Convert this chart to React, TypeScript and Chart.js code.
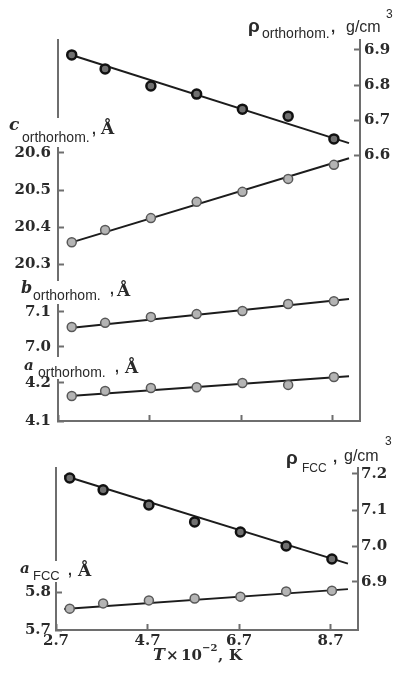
import React, { useEffect, useRef } from "react";
import { Chart, registerables } from "chart.js";

Chart.register(...registerables);

// ---------------- data ----------------
// temperature, T x 10^-2 K
const T = [3.0, 3.73, 4.73, 5.73, 6.73, 7.73, 8.73];
// orthorhombic phase
const RHO_ORTH = [6.886, 6.846, 6.797, 6.774, 6.731, 6.711, 6.646];
const C_ORTH = [20.359, 20.392, 20.424, 20.468, 20.495, 20.53, 20.568];
const B_ORTH = [7.057, 7.069, 7.086, 7.094, 7.103, 7.123, 7.131];
const A_ORTH = [4.166, 4.179, 4.187, 4.189, 4.2, 4.195, 4.216];
// FCC phase
const RHO_FCC = [7.189, 7.156, 7.114, 7.067, 7.039, 7.0, 6.964];
const A_FCC = [5.757, 5.771, 5.779, 5.784, 5.789, 5.803, 5.805];

// fitted straight lines (end points)
const FIT_T_ORTH = [2.96, 9.06];
const RHO_ORTH_FIT = [6.887, 6.634];
const C_ORTH_FIT = [20.357, 20.586];
const B_ORTH_FIT = [7.054, 7.137];
const A_ORTH_FIT = [4.166, 4.218];
const FIT_T_FCC = [2.88, 9.08];
const RHO_FCC_FIT = [7.195, 6.951];
const A_FCC_FIT = [5.756, 5.809];

// tick labels
const X_TICKS = [2.7, 4.7, 6.7, 8.7];
const RHO_ORTH_TICKS = [6.6, 6.7, 6.8, 6.9];
const C_TICKS = [20.3, 20.4, 20.5, 20.6];
const B_TICKS = [7.0, 7.1];
const A_TICKS = [4.1, 4.2];
const RHO_FCC_TICKS = [6.9, 7.0, 7.1, 7.2];
const A_FCC_TICKS = [5.7, 5.8];

// ---------------- styling ----------------
const AXIS_COLOR = "#6e6e6e";
const TEXT_COLOR = "#2a2a2a";
const SERIF = "DejaVu Serif";
const SANS = "Liberation Sans";
const TICK_FONT = { family: SERIF, size: 15, weight: "bold" as const };

const pairs = (xs: number[], ys: number[]) => xs.map((x, i) => ({ x, y: ys[i] }));

function rangeFor(refValue: number, refPx: number, pxPerUnit: number, top: number, bottom: number) {
  return {
    min: refValue - (bottom - refPx) / pxPerUnit,
    max: refValue + (refPx - top) / pxPerUnit,
  };
}

function zeroPad(s: any) {
  s.paddingTop = 0;
  s.paddingBottom = 0;
  s.paddingLeft = 0;
  s.paddingRight = 0;
}

function valueAxis(
  position: "left" | "right",
  weight: number,
  stackWeight: number,
  range: { min: number; max: number },
  ticks: number[],
  pad: number,
  width: number
) {
  return {
    type: "linear",
    position,
    stack: position === "left" ? "L" : "R",
    stackWeight,
    weight,
    min: range.min,
    max: range.max,
    bounds: "data",
    border: { display: true, color: AXIS_COLOR, width: 2 },
    grid: {
      display: true,
      drawOnChartArea: false,
      drawTicks: true,
      tickLength: -6,
      tickColor: AXIS_COLOR,
      tickWidth: 2,
    },
    ticks: {
      display: true,
      autoSkip: false,
      padding: pad,
      color: TEXT_COLOR,
      font: TICK_FONT,
      callback: (v: any) => Number(v).toFixed(1),
    },
    afterBuildTicks: (s: any) => {
      s.ticks = ticks.map((v) => ({ value: v }));
    },
    afterFit: (s: any) => {
      s.width = width;
      zeroPad(s);
    },
  };
}

function blankAxis(weight: number, stackWeight: number, showBorder: boolean, width: number) {
  return {
    type: "linear",
    position: "left",
    stack: "L",
    stackWeight,
    weight,
    min: 0,
    max: 1,
    border: { display: showBorder, color: AXIS_COLOR, width: 2 },
    grid: { display: false },
    ticks: { display: false },
    afterFit: (s: any) => {
      s.width = width;
      zeroPad(s);
    },
  };
}

function xAxis(showLabels: boolean, height: number) {
  return {
    type: "linear",
    position: "bottom",
    min: 2.7,
    max: 9.3,
    bounds: "data",
    border: { display: true, color: AXIS_COLOR, width: 2 },
    grid: {
      display: true,
      drawOnChartArea: false,
      drawTicks: true,
      tickLength: -6,
      tickColor: AXIS_COLOR,
      tickWidth: 2,
    },
    ticks: {
      display: showLabels,
      autoSkip: false,
      maxRotation: 0,
      minRotation: 0,
      padding: 8,
      color: TEXT_COLOR,
      font: TICK_FONT,
      callback: (v: any) => Number(v).toFixed(1),
    },
    afterBuildTicks: (s: any) => {
      s.ticks = X_TICKS.map((v) => ({ value: v }));
    },
    afterFit: (s: any) => {
      s.height = height;
      zeroPad(s);
    },
  };
}

const markerGrey = {
  showLine: false,
  pointRadius: 4.5,
  pointBackgroundColor: "#b4b4b4",
  pointBorderColor: "#585858",
  pointBorderWidth: 1.5,
  clip: false,
};
const markerDark = {
  showLine: false,
  pointRadius: 4.5,
  pointBackgroundColor: "#707070",
  pointBorderColor: "#111111",
  pointBorderWidth: 2.5,
  clip: false,
};
const fitLine = {
  showLine: true,
  pointRadius: 0,
  borderColor: "#1c1c1c",
  borderWidth: 2,
  fill: false,
  tension: 0,
  clip: false,
};

type Lbl = [string, string, number, number];

function labelPlugin(labels: Lbl[]) {
  return {
    id: "richLabels",
    afterDraw(chart: any) {
      const ctx = chart.ctx as CanvasRenderingContext2D;
      ctx.save();
      ctx.fillStyle = TEXT_COLOR;
      ctx.textAlign = "left";
      ctx.textBaseline = "alphabetic";
      for (const [text, font, x, y] of labels) {
        ctx.font = font;
        ctx.fillText(text, x, y);
      }
      ctx.restore();
    },
  };
}

const TOP_LABELS: Lbl[] = [
  ["ρ", `bold 19px ${SANS}`, 248, 32],
  ["orthorhom.", `14px ${SANS}`, 262, 38],
  [",", `bold 15px ${SANS}`, 331, 32],
  ["g/cm", `16px ${SANS}`, 346, 32],
  ["3", `12px ${SANS}`, 386, 18],

  ["c", `bold italic 17px ${SERIF}`, 9, 130],
  ["orthorhom.", `14px ${SANS}`, 22, 142],
  [",", `bold 14px ${SANS}`, 92, 134],
  ["Å", `bold 17px ${SERIF}`, 101, 134],

  ["b", `bold italic 16px ${SERIF}`, 21, 293],
  ["orthorhom.", `14px ${SANS}`, 33, 300],
  [",", `bold 14px ${SANS}`, 110, 294],
  ["Å", `bold 17px ${SERIF}`, 117, 296],

  ["a", `bold italic 15px ${SERIF}`, 24, 370],
  ["orthorhom.", `14px ${SANS}`, 38, 377],
  [",", `bold 14px ${SANS}`, 115, 372],
  ["Å", `bold 17px ${SERIF}`, 125, 373],
];

const BOTTOM_LABELS: Lbl[] = [
  ["ρ", `bold 19px ${SANS}`, 286, 34],
  ["FCC", `12px ${SANS}`, 302, 42],
  [",", `bold 15px ${SANS}`, 333, 32],
  ["g/cm", `16px ${SANS}`, 344, 31],
  ["3", `12px ${SANS}`, 385, 15],

  ["a", `bold italic 15px ${SERIF}`, 20, 143],
  ["FCC", `13px ${SANS}`, 33, 150],
  [",", `bold 14px ${SANS}`, 68, 145],
  ["Å", `bold 17px ${SERIF}`, 78, 146],

  ["T", `bold italic 16px ${SERIF}`, 153, 230],
  ["×", `bold 15px ${SERIF}`, 166, 230],
  ["10", `bold 15px ${SERIF}`, 181, 230],
  ["−2", `bold 10px ${SERIF}`, 202, 221],
  [",", `bold 15px ${SERIF}`, 218, 230],
  ["K", `bold 15px ${SERIF}`, 229, 230],
];

function baseOptions(padTop: number) {
  return {
    animation: false,
    responsive: false,
    devicePixelRatio: 1,
    events: [],
    layout: { padding: { top: padTop, left: 0, right: 0, bottom: 0 } },
    plugins: { legend: { display: false }, tooltip: { enabled: false }, title: { display: false } },
  };
}

function topConfig(): any {
  // chart area: x 58..360, y 40..421 (canvas height 430)
  const L = 58;
  const R = 34;
  return {
    type: "scatter",
    data: {
      datasets: [
        { ...markerDark, data: pairs(T, RHO_ORTH), yAxisID: "yRho" },
        { ...markerGrey, data: pairs(T, C_ORTH), yAxisID: "yC" },
        { ...markerGrey, data: pairs(T, B_ORTH), yAxisID: "yB" },
        { ...markerGrey, data: pairs(T, A_ORTH), yAxisID: "yA" },
        { ...fitLine, data: pairs(FIT_T_ORTH, RHO_ORTH_FIT), yAxisID: "yRho" },
        { ...fitLine, data: pairs(FIT_T_ORTH, C_ORTH_FIT), yAxisID: "yC" },
        { ...fitLine, data: pairs(FIT_T_ORTH, B_ORTH_FIT), yAxisID: "yB" },
        { ...fitLine, data: pairs(FIT_T_ORTH, A_ORTH_FIT), yAxisID: "yA" },
      ],
    },
    options: {
      ...baseOptions(40),
      scales: {
        x: xAxis(false, 9),
        yTop: blankAxis(7, 117 - 40, true, L),
        gap1: blankAxis(6, 148 - 117, false, L),
        yC: valueAxis("left", 5, 280 - 148, rangeFor(20.6, 153, 370, 148, 280), C_TICKS, 13, L),
        gap2: blankAxis(4, 305 - 280, false, L),
        yB: valueAxis("left", 3, 356 - 305, rangeFor(7.1, 312, 350, 305, 356), B_TICKS, 13, L),
        gap3: blankAxis(2, 380 - 356, false, L),
        yA: valueAxis("left", 1, 421 - 380, rangeFor(4.1, 421, 380, 380, 421), A_TICKS, 13, L),
        yRho: valueAxis("right", 1, 1, rangeFor(6.9, 50, 350, 40, 421), RHO_ORTH_TICKS, 10, R),
      },
    },
    plugins: [labelPlugin(TOP_LABELS)],
  };
}

function bottomConfig(): any {
  // chart area: x 56..358, y 38..200 (canvas height 245, page offset 430)
  const L = 56;
  const R = 36;
  return {
    type: "scatter",
    data: {
      datasets: [
        { ...markerDark, data: pairs(T, RHO_FCC), yAxisID: "yRho" },
        { ...markerGrey, data: pairs(T, A_FCC), yAxisID: "yA" },
        { ...fitLine, data: pairs(FIT_T_FCC, RHO_FCC_FIT), yAxisID: "yRho" },
        { ...fitLine, data: pairs(FIT_T_FCC, A_FCC_FIT), yAxisID: "yA" },
      ],
    },
    options: {
      ...baseOptions(38),
      scales: {
        x: xAxis(true, 45),
        yTop: blankAxis(3, 130 - 38, true, L),
        gap1: blankAxis(2, 153 - 130, false, L),
        yA: valueAxis("left", 1, 200 - 153, rangeFor(5.7, 200, 375, 153, 200), A_FCC_TICKS, 11, L),
        yRho: valueAxis("right", 1, 1, rangeFor(7.2, 44, 360, 38, 200), RHO_FCC_TICKS, 9, R),
      },
    },
    plugins: [labelPlugin(BOTTOM_LABELS)],
  };
}

export default function App() {
  const topRef = useRef<HTMLCanvasElement>(null);
  const botRef = useRef<HTMLCanvasElement>(null);

  useEffect(() => {
    const c1 = new Chart(topRef.current as HTMLCanvasElement, topConfig());
    const c2 = new Chart(botRef.current as HTMLCanvasElement, bottomConfig());
    return () => {
      c1.destroy();
      c2.destroy();
    };
  }, []);

  return (
    <div style={{ position: "absolute", left: 0, top: 0, width: 394, height: 675, background: "#fff" }}>
      <canvas
        ref={topRef}
        width={394}
        height={430}
        style={{ position: "absolute", left: 0, top: 0, width: 394, height: 430 }}
      />
      <canvas
        ref={botRef}
        width={394}
        height={245}
        style={{ position: "absolute", left: 0, top: 430, width: 394, height: 245 }}
      />
    </div>
  );
}
